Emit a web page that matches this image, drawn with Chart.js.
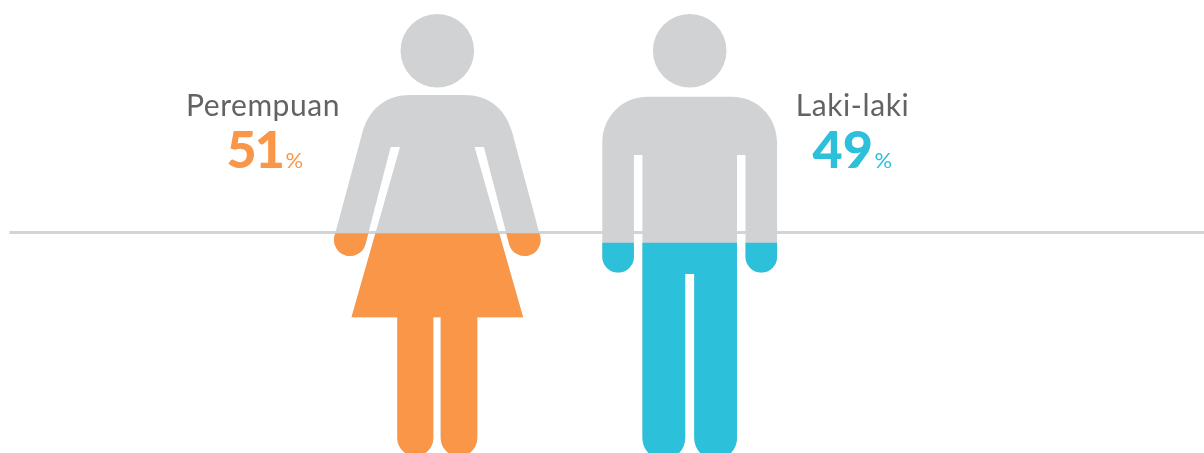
<!DOCTYPE html>
<html lang="id">
<head>
<meta charset="utf-8">
<title>Perempuan dan laki-laki</title>
<script src="https://cdn.jsdelivr.net/npm/chart.js@4/dist/chart.umd.min.js"></script>
<style>
  html, body { margin: 0; padding: 0; background: #fff; overflow: hidden; }
  canvas { display: block; }
</style>
</head>
<body>
<canvas id="chart" width="1204" height="453"></canvas>
<script>
const categories = ['Perempuan', 'Laki-laki'];
const shares = [51, 49];
const fillColors = ['#F99648', '#2CC0DA'];
const silhouetteColor = '#D1D2D4';
const ruleColor = '#D4D4D4';
const nameColor = '#636363';
const FONT = 'Lato, sans-serif';

// Woman figure, offsets from the centre of her bar
function womanPath(cx) {
  const p = new Path2D();
  const deg = Math.PI / 180;
  p.moveTo(cx + 36.8, 50.7);
  p.arc(cx, 50.7, 36.8, 0, Math.PI * 2);
  p.closePath();
  p.moveTo(cx - 27, 95);
  p.bezierCurveTo(cx - 50, 95, cx - 67, 107, cx - 74.5, 131);
  p.lineTo(cx - 102.8, 235.9);
  p.arc(cx - 87.3, 240, 16, 195 * deg, 15 * deg, true);
  p.lineTo(cx - 46.6, 147);
  p.lineTo(cx - 37.3, 147);
  p.lineTo(cx - 85.8, 317.3);
  p.lineTo(cx - 40, 317.3);
  p.lineTo(cx - 40, 438);
  p.arc(cx - 22, 438, 18, Math.PI, 0, true);
  p.lineTo(cx - 4, 317.3);
  p.lineTo(cx + 3.4, 317.3);
  p.lineTo(cx + 3.4, 438);
  p.arc(cx + 21.7, 438, 18.3, Math.PI, 0, true);
  p.lineTo(cx + 40, 317.3);
  p.lineTo(cx + 85.8, 317.3);
  p.lineTo(cx + 37.3, 147);
  p.lineTo(cx + 46.6, 147);
  p.lineTo(cx + 71.8, 244.1);
  p.arc(cx + 87.3, 240, 16, 165 * deg, -15 * deg, true);
  p.lineTo(cx + 74.5, 131);
  p.bezierCurveTo(cx + 67, 107, cx + 50, 95, cx + 27, 95);
  p.closePath();
  return p;
}

// Man figure, offsets from the centre of his bar
function manPath(cx) {
  const p = new Path2D();
  p.moveTo(cx + 36.8, 50.7);
  p.arc(cx, 50.7, 36.8, 0, Math.PI * 2);
  p.closePath();
  p.moveTo(cx - 42, 96.7);
  p.bezierCurveTo(cx - 68, 96.7, cx - 87.4, 117, cx - 87.4, 143);
  p.lineTo(cx - 87.4, 256.8);
  p.arc(cx - 71.6, 256.8, 15.8, Math.PI, 0, true);
  p.lineTo(cx - 55.8, 155);
  p.lineTo(cx - 47.3, 155);
  p.lineTo(cx - 47.3, 438);
  p.arc(cx - 25.9, 438, 21.4, Math.PI, 0, true);
  p.lineTo(cx - 4.5, 274);
  p.lineTo(cx + 4.5, 274);
  p.lineTo(cx + 4.5, 438);
  p.arc(cx + 25.9, 438, 21.4, Math.PI, 0, true);
  p.lineTo(cx + 47.3, 155);
  p.lineTo(cx + 55.8, 155);
  p.lineTo(cx + 55.8, 256.8);
  p.arc(cx + 71.6, 256.8, 15.8, Math.PI, 0, true);
  p.lineTo(cx + 87.4, 143);
  p.bezierCurveTo(cx + 87.4, 117, cx + 68, 96.7, cx + 42, 96.7);
  p.closePath();
  return p;
}

const figureBuilders = [womanPath, manPath];

function figuresFor(chart) {
  const bars = chart.getDatasetMeta(0).data;
  return bars.map((bar, i) => figureBuilders[i](bar.x));
}

// The grey figures sit behind the bars and also act as their clip shape
const pictogram = {
  id: 'pictogram',
  beforeDatasetsDraw(chart) {
    const { ctx, scales } = chart;
    const ruleY = scales.y.getPixelForValue(shares[0]) - 0.8;
    ctx.save();
    ctx.strokeStyle = ruleColor;
    ctx.lineWidth = 3;
    ctx.beginPath();
    ctx.moveTo(9.5, ruleY);
    ctx.lineTo(chart.width, ruleY);
    ctx.stroke();
    ctx.restore();

    const shapes = figuresFor(chart);
    const union = new Path2D();
    ctx.fillStyle = silhouetteColor;
    shapes.forEach(s => { ctx.fill(s); union.addPath(s); });
    ctx.save();
    ctx.clip(union);
  },
  afterDatasetsDraw(chart) {
    chart.ctx.restore();
    drawLabels(chart);
  }
};

function drawLabels(chart) {
  const { ctx } = chart;
  const centres = [263, 852.5];
  const nameTracking = ['0.55px', '0.6px'];
  const numberLeft = [226.5, 812.5];
  const numberTracking = ['-2px', '0px'];
  const percentLeft = [285.5, 874.5];
  ctx.save();
  ctx.textBaseline = 'alphabetic';
  categories.forEach((name, i) => {
    ctx.textAlign = 'center';
    ctx.fillStyle = nameColor;
    ctx.font = '400 30px ' + FONT;
    ctx.letterSpacing = nameTracking[i];
    ctx.fillText(name, centres[i], 116);
    ctx.textAlign = 'left';
    ctx.fillStyle = fillColors[i];
    ctx.font = '900 52px ' + FONT;
    ctx.letterSpacing = numberTracking[i];
    ctx.fillText(String(shares[i]), numberLeft[i], 168.3);
    ctx.letterSpacing = '0px';
    ctx.font = '400 22px ' + FONT;
    ctx.fillText('%', percentLeft[i], 168.3);
  });
  ctx.restore();
}

new Chart(document.getElementById('chart'), {
  type: 'bar',
  data: {
    labels: categories,
    datasets: [{
      data: shares,
      backgroundColor: fillColors,
      borderWidth: 0,
      categoryPercentage: 1,
      barPercentage: 0.85
    }]
  },
  options: {
    responsive: false,
    animation: false,
    events: [],
    layout: { padding: { left: 311.1, right: 388.1, top: 0, bottom: 0 } },
    scales: {
      x: { display: false },
      y: { display: false, min: 4.26, max: 100.64 }
    },
    plugins: { legend: { display: false }, tooltip: { enabled: false } }
  },
  plugins: [pictogram]
});
</script>
</body>
</html>
